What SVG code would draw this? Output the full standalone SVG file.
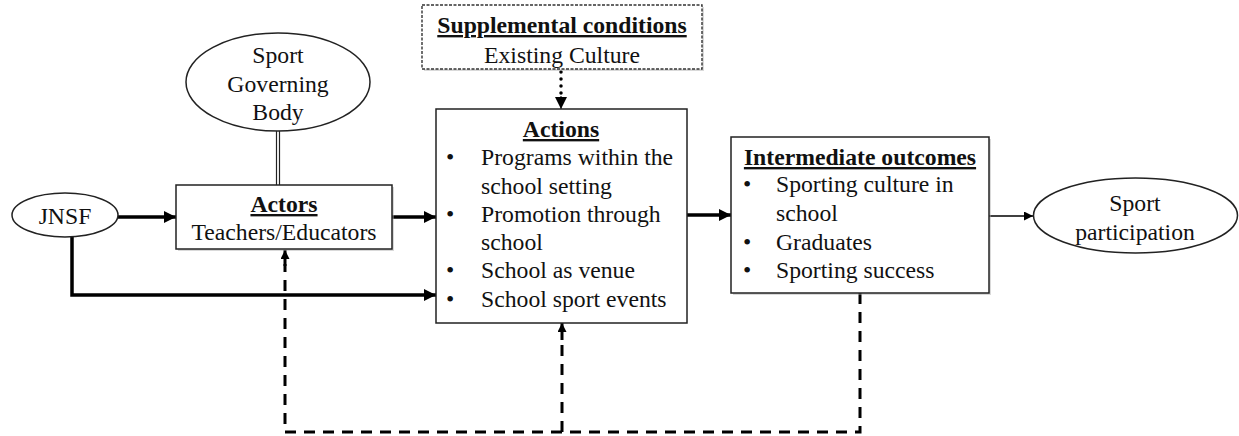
<svg xmlns="http://www.w3.org/2000/svg" width="1239" height="436" viewBox="0 0 1239 436">
<style>
text{font-family:"Liberation Serif","Times New Roman",serif;font-size:23.7px;fill:#111}
.c{text-anchor:middle}
.b{font-weight:bold;text-decoration:underline}
.box{fill:#fff;stroke:#222;stroke-width:1.5}
.sh{fill:#aaa;opacity:0.45}
.ell{fill:#fff;stroke:#222;stroke-width:1.5}
.thick{stroke:#000;stroke-width:3.5;fill:none}
.thin{stroke:#000;stroke-width:1.3;fill:none}
.dash{stroke:#000;stroke-width:3;fill:none;stroke-dasharray:11 8}
</style>
<defs>
<marker id="ah" viewBox="0 0 10 10" refX="10" refY="5" markerWidth="13" markerHeight="12" markerUnits="userSpaceOnUse" orient="auto"><path d="M0,0 L10,5 L0,10 z" fill="#000"/></marker>
<marker id="ahs" viewBox="0 0 10 10" refX="10" refY="5" markerWidth="10" markerHeight="9" markerUnits="userSpaceOnUse" orient="auto"><path d="M0,0 L10,5 L0,10 z" fill="#000"/></marker>
</defs>
<g id="connectors">
<line class="thick" x1="118" y1="217" x2="176" y2="217" marker-end="url(#ah)"/>
<line class="thick" x1="392" y1="217" x2="436" y2="217" marker-end="url(#ah)"/>
<polyline class="thick" points="72,237 72,295 436,295" marker-end="url(#ah)"/>
<line class="thick" x1="687" y1="215" x2="731" y2="215" marker-end="url(#ah)"/>
<line class="thin" x1="989" y1="216" x2="1033" y2="216" marker-end="url(#ahs)"/>
<line stroke="#222" stroke-width="1.2" x1="276.5" y1="131" x2="276.5" y2="185"/>
<line stroke="#222" stroke-width="1.2" x1="279.5" y1="131" x2="279.5" y2="185"/>
<line x1="561" y1="72" x2="561" y2="96" stroke="#000" stroke-width="3.5" stroke-linecap="round" stroke-dasharray="0 7"/>
<line x1="561" y1="96" x2="561" y2="109" stroke="#000" stroke-width="1" marker-end="url(#ah)"/>
<polyline class="dash" points="860,293 860,432 285,432 285,264"/>
<line x1="285" y1="266" x2="285" y2="250" stroke="#000" stroke-width="3" marker-end="url(#ahs)"/>
<polyline class="dash" points="562,432 562,338"/>
<line x1="562" y1="340" x2="562" y2="323" stroke="#000" stroke-width="3" marker-end="url(#ahs)"/>
</g>
<g id="jnsf">
<ellipse class="ell" cx="65" cy="215" rx="53" ry="22"/>
<text class="c" x="65" y="224">JNSF</text>
</g>
<g id="sgb">
<ellipse class="ell" cx="278" cy="82" rx="92" ry="49"/>
<text class="c" x="278" y="63">Sport</text>
<text class="c" x="278" y="92">Governing</text>
<text class="c" x="278" y="120">Body</text>
</g>
<g id="actors">
<rect class="sh" x="178" y="187" width="216" height="64"/>
<rect class="box" x="176" y="185" width="216" height="64"/>
<text class="c b" x="284" y="212">Actors</text>
<text class="c" x="284" y="240">Teachers/Educators</text>
</g>
<g id="supplemental">
<rect class="sh" x="424" y="7" width="280" height="64"/>
<rect x="422" y="5" width="280" height="64" fill="#fff" stroke="#333" stroke-width="1.4" stroke-dasharray="3 1.5"/>
<text class="c b" x="562" y="33">Supplemental conditions</text>
<text class="c" x="562" y="63">Existing Culture</text>
</g>
<g id="actions">
<rect class="box" x="436" y="109" width="251" height="214"/>
<text class="c b" x="561" y="137">Actions</text>
<text x="446" y="165">•</text><text x="481" y="165">Programs within the</text>
<text x="481" y="194">school setting</text>
<text x="446" y="222">•</text><text x="481" y="222">Promotion through</text>
<text x="481" y="250">school</text>
<text x="446" y="278">•</text><text x="481" y="278">School as venue</text>
<text x="446" y="307">•</text><text x="481" y="307">School sport events</text>
</g>
<g id="outcomes">
<rect class="sh" x="733" y="139" width="258" height="156"/>
<rect class="box" x="731" y="137" width="258" height="156"/>
<text class="c b" x="860" y="165">Intermediate outcomes</text>
<text x="743" y="192">•</text><text x="776" y="192">Sporting culture in</text>
<text x="776" y="221">school</text>
<text x="743" y="250">•</text><text x="776" y="250">Graduates</text>
<text x="743" y="278">•</text><text x="776" y="278">Sporting success</text>
</g>
<g id="participation">
<ellipse class="ell" cx="1135.5" cy="215.5" rx="102" ry="37.5"/>
<text class="c" x="1135" y="211">Sport</text>
<text class="c" x="1135" y="240">participation</text>
</g>
</svg>
